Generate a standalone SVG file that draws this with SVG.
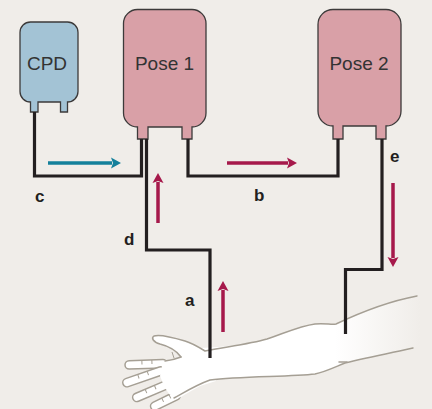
<svg xmlns="http://www.w3.org/2000/svg" width="432" height="409" viewBox="0 0 432 409">
  <style>
    .bag { stroke: #3c3a3a; stroke-width: 1.3; }
    .cpd { fill: #a3c3d5; }
    .pose { fill: #d9a0a7; }
    .bagtext { font-family: "Liberation Sans", Arial, sans-serif; font-size: 19px; fill: #333; text-anchor: middle; }
    .tube { fill: none; stroke: #231f20; stroke-width: 3.2; stroke-linejoin: miter; }
    .lbl { font-family: "Liberation Sans", Arial, sans-serif; font-size: 17px; font-weight: bold; fill: #231f20; }
    .skin { fill: #fff; stroke: #a59f94; stroke-width: 1.5; stroke-linecap: round; stroke-linejoin: round; }
    .edge { fill: none; stroke: #a59f94; stroke-width: 1.5; stroke-linecap: round; stroke-linejoin: round; }
    .crease { fill: none; stroke: #a59f94; stroke-width: 1; }
    .flow-red { stroke: #a6194b; stroke-width: 3.5; fill: none; }
    .flow-teal { stroke: #14809b; stroke-width: 3.5; fill: none; }
  </style>
  <defs>
    <marker id="headRed" markerUnits="userSpaceOnUse" markerWidth="11" markerHeight="12" refX="1" refY="6" orient="auto">
      <path d="M0,0.5 L10,6 L0,11.5 L2,6 Z" fill="#a6194b"/>
    </marker>
    <marker id="headTeal" markerUnits="userSpaceOnUse" markerWidth="11" markerHeight="12" refX="1" refY="6" orient="auto">
      <path d="M0,0.5 L10,6 L0,11.5 L2,6 Z" fill="#14809b"/>
    </marker>
    <linearGradient id="armFade" gradientUnits="userSpaceOnUse" x1="335" y1="0" x2="420" y2="0">
      <stop offset="0" stop-color="#ffffff"/>
      <stop offset="1" stop-color="#f0ede9"/>
    </linearGradient>
  </defs>

  <!-- background -->
  <rect width="432" height="409" fill="#f0ede9"/>

  <!-- arm and hand -->
  <g id="arm">
    <!-- fingers -->
    <g transform="translate(125,365) rotate(-2)">
      <rect class="skin" x="0" y="-4.2" width="42" height="8.4" rx="4.2"/>
      <path class="crease" d="M17,-4 V0 M27,-4 V0"/>
    </g>
    <g transform="translate(123,384) rotate(-19)">
      <rect class="skin" x="0" y="-4.2" width="44" height="8.4" rx="4.2"/>
      <path class="crease" d="M17,-4 V0 M27,-4 V0"/>
    </g>
    <g transform="translate(133,399) rotate(-23)">
      <rect class="skin" x="0" y="-4.2" width="40" height="8.4" rx="4.2"/>
      <path class="crease" d="M15,-4 V0 M25,-4 V0"/>
    </g>
    <g transform="translate(151,408) rotate(-26)">
      <rect class="skin" x="0" y="-4.2" width="32" height="8.4" rx="4.2"/>
      <path class="crease" d="M14,-4 V0 M22,-4 V0"/>
    </g>
    <!-- forearm, fading out to the right -->
    <path fill="url(#armFade)" d="M200,348 C225,347 250,344 267,339 C285,333 300,326 315,324 C325,323 332,325 336,324 C355,315 385,302 420,295 L420,346 C395,352 370,357 345,363 C335,367 325,372 315,374 C290,377 240,376 210,380 C203,382 200,384 198,386 Z"/>
    <!-- palm and thumb fill -->
    <path fill="#fff" d="M181,357 C176,350 168,346 160,344 C153,342 151,338 154,336 C160,334 175,338 185,341 C192,343 197,346 206,351 L216,349 L216,381 L200,386 L177,399 L169,394 L164,386 L160,376 L163,361 Z"/>
    <!-- outlines -->
    <path class="edge" d="M181,357 C176,350 168,346 160,344 C153,342 151,338 154,336 C160,334 175,338 185,341 C192,343 197,346 205,351 C225,347 250,344 267,339 C285,333 300,326 315,324 C325,323 332,325 336,324 C355,315 385,302 417,296"/>
    <path class="edge" d="M165,361 C172,360 176,359 181,357"/>
    <path class="crease" d="M172,352 L174,358"/>
    <path class="edge" d="M174,398 C185,392 196,385 210,380 C240,376 290,377 315,374 C325,372 335,367 345,363 C370,357 395,352 413,348"/>
    <path class="edge" d="M339,362 H347"/>
  </g>

  <!-- bags -->
  <g id="cpd">
    <path class="bag cpd" d="M20,32.5 A10.5,10.5 0 0 1 30.5,22 H67.5 A10.5,10.5 0 0 1 78,32.5 V91.5 A10.5,10.5 0 0 1 67.5,102 V112 H60.5 V102 H38 V112 H30.5 V102 A10.5,10.5 0 0 1 20,91.5 Z"/>
    <text class="bagtext" x="47" y="69.5">CPD</text>
  </g>
  <g id="pose1">
    <path class="bag pose" d="M123.5,23.5 A14,14 0 0 1 137.5,9.5 H192 A14,14 0 0 1 206,23.5 V113 A14,14 0 0 1 192,127 V139 H182 V127 H148 V139 H137.5 V127 A14,14 0 0 1 123.5,113 Z"/>
    <text class="bagtext" x="164.5" y="69.5">Pose 1</text>
  </g>
  <g id="pose2">
    <path class="bag pose" d="M318,24.5 A15,15 0 0 1 333,9.5 H386 A15,15 0 0 1 401,24.5 V111 A15,15 0 0 1 386,126 V139 H376 V126 H343 V139 H333 V126 A15,15 0 0 1 318,111 Z"/>
    <text class="bagtext" x="359" y="69.5">Pose 2</text>
  </g>

  <!-- tubing and flow arrows -->
  <g id="connectors">
    <path class="tube" d="M34.5,112 V176 H141.5 V139"/>
    <path class="tube" d="M146.5,139 V250 H210 V358"/>
    <path class="tube" d="M188,139 V176 H338 V139"/>
    <path class="tube" d="M382,139 V269.5 H345.5 V334"/>

    <line class="flow-teal" x1="48" y1="163" x2="112" y2="163" marker-end="url(#headTeal)"/>
    <line class="flow-red" x1="227" y1="163" x2="288" y2="163" marker-end="url(#headRed)"/>
    <line class="flow-red" x1="158" y1="223" x2="158" y2="182" marker-end="url(#headRed)"/>
    <line class="flow-red" x1="223" y1="332" x2="223" y2="290" marker-end="url(#headRed)"/>
    <line class="flow-red" x1="393" y1="183" x2="393" y2="258" marker-end="url(#headRed)"/>
  </g>

  <!-- tube labels -->
  <g id="labels">
    <text class="lbl" x="35" y="202">c</text>
    <text class="lbl" x="254" y="201">b</text>
    <text class="lbl" x="124" y="245">d</text>
    <text class="lbl" x="185" y="306">a</text>
    <text class="lbl" x="390" y="162">e</text>
  </g>
</svg>
